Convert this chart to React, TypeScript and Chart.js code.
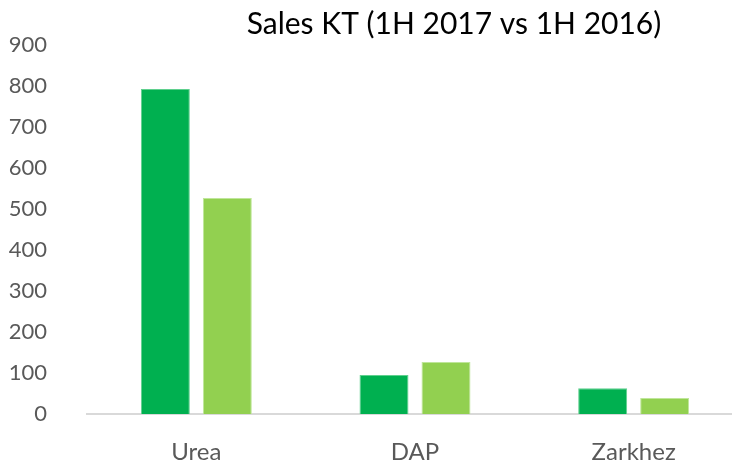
import React, { useEffect, useRef } from "react";
import { Chart, registerables } from "chart.js";

Chart.register(...registerables);

const categories = ["Urea", "DAP", "Zarkhez"];
const sales1H2017 = [793, 95, 63];
const sales1H2016 = [527, 127, 39];
const yTicks = [0, 100, 200, 300, 400, 500, 600, 700, 800, 900];
const titleText = "Sales KT (1H 2017 vs 1H 2016)";

const FONT = "Lato, 'Open Sans', sans-serif";

const titlePlugin = {
  id: "customTitle",
  afterDraw(chart: any) {
    const ctx = chart.ctx;
    ctx.save();
    ctx.font = `30px ${FONT}`;
    ctx.fillStyle = "#000000";
    ctx.textAlign = "center";
    ctx.textBaseline = "middle";
    ctx.fillText(titleText, 454, 24);
    ctx.restore();
  },
};

export default function App() {
  const ref = useRef<HTMLCanvasElement>(null);
  useEffect(() => {
    if (!ref.current) return;
    const chart = new Chart(ref.current, {
      type: "bar",
      data: {
        labels: categories,
        datasets: [
          {
            label: "1H 2017",
            data: sales1H2017,
            backgroundColor: "#00B050",
            borderColor: "#5fd08e",
            borderWidth: { top: 1, left: 1, right: 1, bottom: 0 },
            categoryPercentage: 0.567,
            barPercentage: 0.79,
          },
          {
            label: "1H 2016",
            data: sales1H2016,
            backgroundColor: "#92D050",
            borderColor: "#bfe69a",
            borderWidth: { top: 1, left: 1, right: 1, bottom: 0 },
            categoryPercentage: 0.567,
            barPercentage: 0.79,
          },
        ],
      },
      options: {
        responsive: false,
        animation: false,
        layout: { padding: { top: 44, right: 0, left: 0, bottom: 0 } },
        plugins: {
          legend: { display: false },
          title: { display: false },
          tooltip: { enabled: false },
        },
        scales: {
          x: {
            grid: { display: false },
            border: { display: true, color: "#d9d9d9", width: 2 },
            ticks: {
              color: "#595959",
              font: { family: FONT, size: 24 },
              padding: 16,
            },
            afterFit(scale: any) {
              scale.height = 46;
            },
          },
          y: {
            min: 0,
            max: 900,
            afterBuildTicks(scale: any) {
              scale.ticks = yTicks.map((v) => ({ value: v }));
            },
            grid: { display: false },
            border: { display: false },
            ticks: {
              color: "#595959",
              font: { family: FONT, size: 22 },
              padding: 32,
            },
            afterFit(scale: any) {
              scale.width = 87;
            },
          },
        },
      },
      plugins: [titlePlugin],
    });
    return () => chart.destroy();
  }, []);
  return (
    <div style={{ position: "absolute", left: 0, top: 0, width: 732, height: 460, overflow: "hidden" }}>
      <canvas ref={ref} width={743} height={460} style={{ display: "block" }} />
    </div>
  );
}
